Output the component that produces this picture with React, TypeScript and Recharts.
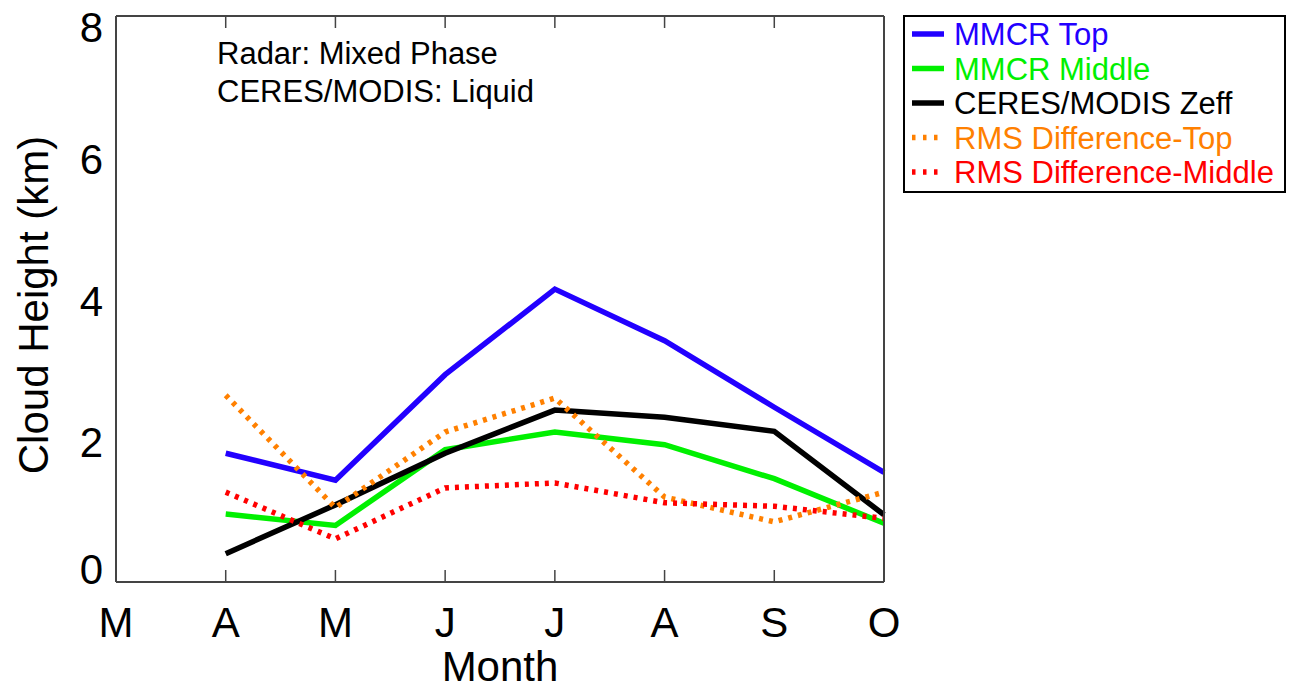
import React from "react";
import { LineChart, Line, XAxis, YAxis, Legend, Label } from "recharts";

const months = ["M", "A", "M", "J", "J", "A", "S", "O"];
const mmcrTop = [null, 1.82, 1.44, 2.93, 4.14, 3.41, 2.47, 1.55];
const mmcrMiddle = [null, 0.96, 0.8, 1.87, 2.12, 1.94, 1.46, 0.83];
const ceresZeff = [null, 0.4, 1.09, 1.82, 2.43, 2.33, 2.13, 0.95];
const rmsTop = [null, 2.64, 1.05, 2.12, 2.6, 1.2, 0.85, 1.27];
const rmsMiddle = [null, 1.27, 0.61, 1.33, 1.4, 1.12, 1.07, 0.9];

const xTicks = [0, 1, 2, 3, 4, 5, 6, 7];
const yMajor = [0, 2, 4, 6, 8];
const yMinor = [1, 3, 5, 7];

const series = [
  { key: "top", name: "MMCR Top", color: "#2200ff", dotted: false },
  { key: "middle", name: "MMCR Middle", color: "#00f000", dotted: false },
  { key: "zeff", name: "CERES/MODIS Zeff", color: "#000000", dotted: false },
  { key: "rmsTop", name: "RMS Difference-Top", color: "#ff8000", dotted: true },
  { key: "rmsMiddle", name: "RMS Difference-Middle", color: "#ff0000", dotted: true },
];

const data = months.map((m, i) => ({
  x: i,
  month: m,
  top: mmcrTop[i],
  middle: mmcrMiddle[i],
  zeff: ceresZeff[i],
  rmsTop: rmsTop[i],
  rmsMiddle: rmsMiddle[i],
}));

const FONT = "'Liberation Sans', Arial, Helvetica, sans-serif";
const AXIS = "#444";

function YTick(props: any) {
  const { x, y, payload } = props;
  const v = payload.value;
  const shift = v === 0 ? -13 : v === 8 ? 11 : 1.5;
  return (
    <text x={x} y={y + shift} dy="0.36em" textAnchor="end" fontSize={42} fill="#000" fontFamily={FONT}>
      {v}
    </text>
  );
}

function LegendBox() {
  return (
    <svg width={383} height={178} style={{ display: "block" }}>
      <rect x={1} y={1} width={381} height={176} fill="#fff" stroke="#000" strokeWidth={2} />
      {series.map((s, i) => {
        const base = 30 + i * 34.5;
        return (
          <g key={s.key}>
            <line
              x1={9}
              x2={41}
              y1={base - 11}
              y2={base - 11}
              stroke={s.color}
              strokeWidth={5.5}
              strokeDasharray={s.dotted ? "3.5 7.5" : undefined}
            />
            <text x={51} y={base} fontSize={31} fill={s.color} fontFamily={FONT}>
              {s.name}
            </text>
          </g>
        );
      })}
    </svg>
  );
}

function Annotation() {
  return (
    <div
      style={{
        position: "absolute",
        left: 217,
        top: 35,
        fontSize: 31,
        lineHeight: "38px",
        fontFamily: FONT,
        color: "#000",
        pointerEvents: "none",
        whiteSpace: "nowrap",
      }}
    >
      <div>Radar: Mixed Phase</div>
      <div>CERES/MODIS: Liquid</div>
    </div>
  );
}

export default function App() {
  return (
    <div style={{ position: "absolute", left: 0, top: 0, width: 1290, height: 690, background: "#fff" }}>
      <LineChart width={1290} height={690} data={data} margin={{ top: 16, right: 406, bottom: 0, left: 0 }}>
        <XAxis
          xAxisId="main"
          dataKey="x"
          type="number"
          domain={[0, 7]}
          ticks={xTicks}
          interval={0}
          tickFormatter={(i: number) => months[i]}
          height={108}
          tickLine={false}
          tickSize={0}
          tickMargin={25}
          axisLine={{ stroke: AXIS, strokeWidth: 2 }}
          tick={{ fontSize: 42, fill: "#000", fontFamily: FONT }}
        >
          <Label
            content={(p: any) => {
              const vb = p.viewBox;
              return (
                <text x={vb.x + vb.width / 2} y={vb.y + 99} textAnchor="middle" fontSize={42} fill="#000" fontFamily={FONT}>
                  Month
                </text>
              );
            }}
          />
        </XAxis>
        <XAxis
          xAxisId="bottomTicks"
          type="number"
          domain={[0, 7]}
          ticks={xTicks}
          interval={0}
          orientation="bottom"
          mirror
          height={1}
          tickSize={12}
          tickFormatter={() => ""}
          axisLine={false}
          tickLine={{ stroke: AXIS, strokeWidth: 1.5 }}
        />
        <XAxis
          xAxisId="topTicks"
          type="number"
          domain={[0, 7]}
          ticks={xTicks}
          interval={0}
          orientation="top"
          mirror
          height={1}
          tickSize={12}
          tickFormatter={() => ""}
          axisLine={{ stroke: AXIS, strokeWidth: 2 }}
          tickLine={{ stroke: AXIS, strokeWidth: 1.5 }}
        />
        <YAxis
          yAxisId="main"
          type="number"
          domain={[0, 8]}
          ticks={yMajor}
          interval={0}
          width={116}
          tickLine={false}
          tickSize={0}
          tickMargin={13}
          axisLine={{ stroke: AXIS, strokeWidth: 2 }}
          tick={<YTick />}
        >
          <Label
            content={(p: any) => {
              const vb = p.viewBox;
              const cx = vb.x + 48;
              const cy = vb.y + vb.height / 2 + 6;
              return (
                <text
                  x={cx}
                  y={cy}
                  textAnchor="middle"
                  fontSize={42}
                  fill="#000"
                  fontFamily={FONT}
                  transform={`rotate(-90, ${cx}, ${cy})`}
                >
                  Cloud Height (km)
                </text>
              );
            }}
          />
        </YAxis>
        <YAxis
          yAxisId="leftMajor"
          type="number"
          domain={[0, 8]}
          ticks={yMajor}
          interval={0}
          orientation="left"
          mirror
          width={1}
          tickSize={15}
          tickFormatter={() => ""}
          axisLine={false}
          tickLine={{ stroke: AXIS, strokeWidth: 1.5 }}
        />
        <YAxis
          yAxisId="leftMinor"
          type="number"
          domain={[0, 8]}
          ticks={yMinor}
          interval={0}
          orientation="left"
          mirror
          width={1}
          tickSize={8}
          tickFormatter={() => ""}
          axisLine={false}
          tickLine={{ stroke: AXIS, strokeWidth: 1.5 }}
        />
        <YAxis
          yAxisId="rightMajor"
          type="number"
          domain={[0, 8]}
          ticks={yMajor}
          interval={0}
          orientation="right"
          mirror
          width={1}
          tickSize={15}
          tickFormatter={() => ""}
          axisLine={{ stroke: AXIS, strokeWidth: 2 }}
          tickLine={{ stroke: AXIS, strokeWidth: 1.5 }}
        />
        <YAxis
          yAxisId="rightMinor"
          type="number"
          domain={[0, 8]}
          ticks={yMinor}
          interval={0}
          orientation="right"
          mirror
          width={1}
          tickSize={8}
          tickFormatter={() => ""}
          axisLine={false}
          tickLine={{ stroke: AXIS, strokeWidth: 1.5 }}
        />
        {series.map((s) => (
          <Line
            key={s.key}
            xAxisId="main"
            yAxisId="main"
            dataKey={s.key}
            name={s.name}
            stroke={s.color}
            strokeWidth={5.5}
            strokeDasharray={s.dotted ? "4 6" : undefined}
            dot={false}
            activeDot={false}
            isAnimationActive={false}
          />
        ))}
        <Legend
          layout="vertical"
          align="center"
          verticalAlign="middle"
          content={() => <LegendBox />}
          wrapperStyle={{ position: "absolute", left: 903, top: 15, width: 383, height: 178 }}
        />
      </LineChart>
      <Annotation />
    </div>
  );
}
